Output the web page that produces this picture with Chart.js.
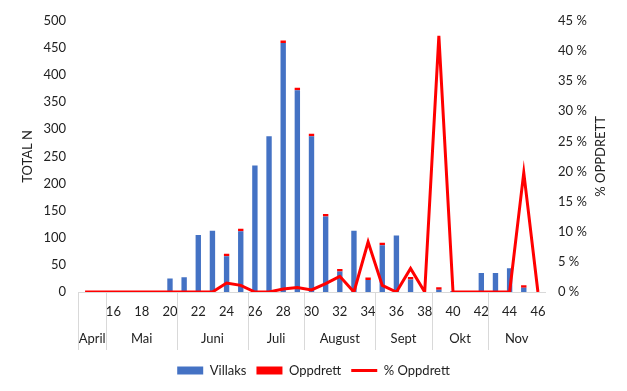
<!DOCTYPE html>
<html>
<head>
<meta charset="utf-8">
<script src="https://cdn.jsdelivr.net/npm/chart.js@4"></script>
<style>
  html, body { margin: 0; padding: 0; background: #fff; }
  #wrap { width: 627px; height: 391px; }
</style>
</head>
<body>
<div id="wrap"><canvas id="chart"></canvas></div>
<script>
// weeks 14..46
const weeks = [14, 15, 16, 17, 18, 19, 20, 21, 22, 23, 24, 25, 26, 27, 28, 29, 30,
               31, 32, 33, 34, 35, 36, 37, 38, 39, 40, 41, 42, 43, 44, 45, 46];
const villaks = [0, 0, 0, 2, 2, 0, 25, 27, 105, 113, 66, 112, 233, 287, 459, 372, 287,
                 139, 38, 113, 22, 86, 104, 23, 0, 4, 2, 0, 35, 35, 44, 8, 0];
const oppdrett = [null, null, null, null, null, null, null, null, null, null, 1, 1, null, null, 2, 3, 1,
                  2, 1, null, 2, 1, null, 1, null, 3, null, null, null, null, null, 2, null];
const pctOppdrett = [0, 0, 0, 0, 0, 0, 0, 0, 0, 0, 1.5, 1.1, 0, 0, 0.5, 0.75, 0.35,
                     1.4, 2.6, 0, 8.3, 1.1, 0, 3.9, 0, 42.5, 0, 0, 0, 0, 0, 19.8, 0];
const months = ['April', 'Mai', 'Juni', 'Juli', 'August', 'Sept', 'Okt', 'Nov'];
const monthStart = [14, 16, 21, 26, 30, 35, 39, 43];

const FONT = 'Lato';
const TXT = '#222';

// month row, separators and axis titles
const extras = {
  id: 'extras',
  afterDraw(chart) {
    const ctx = chart.ctx;
    const x = chart.scales.x;
    const area = chart.chartArea;
    const half = (x.getPixelForValue(1) - x.getPixelForValue(0)) / 2;
    ctx.save();
    ctx.strokeStyle = '#d9d9d9';
    ctx.lineWidth = 1;
    ctx.font = '13px ' + FONT;
    ctx.fillStyle = TXT;
    ctx.textAlign = 'center';
    ctx.textBaseline = 'middle';
    for (let i = 0; i < months.length; i++) {
      const a = weeks.indexOf(monthStart[i]);
      const b = i + 1 < months.length ? weeks.indexOf(monthStart[i + 1]) - 1 : weeks.length - 1;
      const left = x.getPixelForValue(a) - half;
      const right = x.getPixelForValue(b) + half;
      const lx = Math.round(left) + 0.5;
      ctx.beginPath();
      ctx.moveTo(lx, area.bottom);
      ctx.lineTo(lx, area.bottom + 58);
      ctx.stroke();
      ctx.fillText(months[i], (left + right) / 2, area.bottom + 47);
    }
    const cy = (area.top + area.bottom) / 2;
    ctx.translate(28, cy);
    ctx.rotate(-Math.PI / 2);
    ctx.fillText('TOTAL N', 0, 0);
    ctx.rotate(Math.PI / 2);
    ctx.translate(-28, -cy);
    ctx.translate(601, cy);
    ctx.rotate(-Math.PI / 2);
    ctx.fillText('% OPPDRETT', 0, 0);
    ctx.restore();
  }
};

new Chart(document.getElementById('chart'), {
  type: 'bar',
  data: {
    labels: weeks,
    datasets: [
      {
        label: 'Villaks',
        data: villaks,
        backgroundColor: '#4472C4',
        yAxisID: 'y',
        stack: 's',
        order: 1,
        barPercentage: 0.38,
        categoryPercentage: 1
      },
      {
        label: 'Oppdrett',
        data: oppdrett,
        backgroundColor: '#FF0000',
        yAxisID: 'y',
        stack: 's',
        order: 2,
        minBarLength: 2.5,
        barPercentage: 0.38,
        categoryPercentage: 1
      },
      {
        type: 'line',
        label: '% Oppdrett',
        data: pctOppdrett,
        borderColor: '#FF0000',
        backgroundColor: '#FF0000',
        borderWidth: 3,
        pointRadius: 0,
        tension: 0,
        yAxisID: 'y1',
        order: 0
      }
    ]
  },
  options: {
    responsive: true,
    maintainAspectRatio: false,
    animation: false,
    layout: { padding: { top: 15, left: 0, right: 0, bottom: 4 } },
    plugins: {
      tooltip: { enabled: false },
      legend: {
        position: 'bottom',
        labels: {
          font: { family: FONT, size: 13 },
          color: TXT,
          usePointStyle: true,
          pointStyleWidth: 26,
          boxHeight: 8,
          padding: 10,
          sort: (a, b) => a.datasetIndex - b.datasetIndex,
          generateLabels(chart) {
            const items = Chart.defaults.plugins.legend.labels.generateLabels(chart);
            items.forEach(it => {
              it.pointStyle = chart.data.datasets[it.datasetIndex].type === 'line' ? 'line' : 'rect';
            });
            return items;
          }
        }
      }
    },
    scales: {
      x: {
        stacked: true,
        grid: { display: false, drawTicks: false },
        border: { display: true, color: '#d9d9d9' },
        ticks: {
          autoSkip: false,
          maxRotation: 0,
          padding: 12,
          font: { family: FONT, size: 13 },
          color: TXT,
          callback: (v, i) => (weeks[i] >= 16 && weeks[i] % 2 === 0) ? weeks[i] : ''
        },
        afterFit(scale) { scale.height = 62; }
      },
      y: {
        position: 'left',
        stacked: true,
        min: 0,
        max: 500,
        grid: { display: false, drawTicks: false },
        border: { display: false },
        ticks: { stepSize: 50, padding: 12, font: { family: FONT, size: 13 }, color: TXT },
        afterFit(scale) { scale.width = 78; }
      },
      y1: {
        position: 'right',
        min: 0,
        max: 45,
        grid: { display: false, drawTicks: false },
        border: { display: false },
        ticks: {
          stepSize: 5,
          padding: 13,
          font: { family: FONT, size: 13 },
          color: TXT,
          callback: v => v + ' %'
        },
        afterFit(scale) { scale.width = 82; }
      }
    }
  },
  plugins: [extras]
});
</script>
</body>
</html>
